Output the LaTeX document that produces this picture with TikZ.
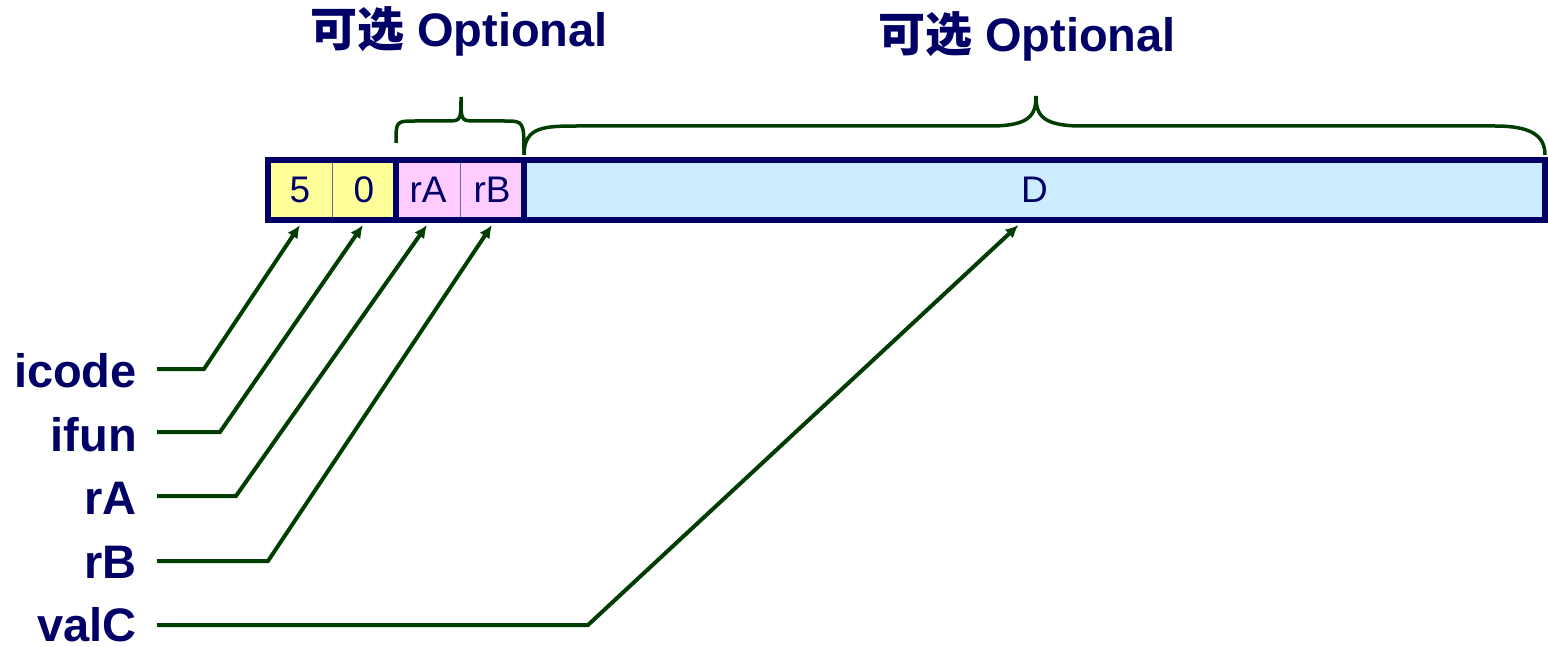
\documentclass[tikz,border=0pt]{standalone}
\usepackage{fontspec}
\setmainfont{Liberation Sans}
\newfontfamily\cjk{Noto Sans CJK SC Bold}
\usetikzlibrary{arrows.meta}
\definecolor{navy}{HTML}{000066}
\definecolor{lgreen}{HTML}{003D00}
\definecolor{yel}{HTML}{FFFF99}
\definecolor{pnk}{HTML}{FFCCFF}
\definecolor{lblue}{HTML}{CCECFF}
\begin{document}
\begin{tikzpicture}[x=1pt,y=-1pt,
  cell/.style={draw=navy!60, line width=1pt, minimum height=60pt, inner sep=0pt, outer sep=0pt,
    text=navy, font=\fontsize{37}{44}\selectfont},
  group/.style={draw=navy, line width=6pt},
  lab/.style={text=navy, inner sep=0pt, font=\bfseries\fontsize{47}{56}\selectfont},
  ttl/.style={text=navy, inner sep=0pt, font=\bfseries\fontsize{47}{56}\selectfont},
  conn/.style={draw=lgreen, line width=4pt, -{Latex[length=13pt,width=12pt]}},
  brace/.style={draw=lgreen, line width=3.5pt}]
\useasboundingbox (0,0) rectangle (1548,647);

% cells
\node[cell, fill=yel, minimum width=64pt] (c5) at (300,190) {5};
\node[cell, fill=yel, minimum width=64pt] (c0) at (364,190) {0};
\node[cell, fill=pnk, minimum width=64pt] (cA) at (428,190) {rA};
\node[cell, fill=pnk, minimum width=64pt] (cB) at (492,190) {rB};
\node[cell, fill=lblue, minimum width=1021pt] (cD) at (1034.5,190) {D};
\draw[group] (c5.north west) rectangle (c0.south east);
\draw[group] (cA.north west) rectangle (cB.south east);
\draw[group] (cD.north west) rectangle (cD.south east);

% titles
\node[ttl, anchor=base] (opt1) at (459,47) {{\cjk 可选} Optional};
\node[ttl, anchor=base] (opt2) at (1027,52) {{\cjk 可选} Optional};

% braces
\draw[brace] (396,143) .. controls (396,121) .. (416,121) -- (446,121)
  .. controls (461,121) .. (461,97) .. controls (461,121) .. (476,121) -- (504,121)
  .. controls (524,121) .. (524,155);
\draw[brace] (524,155) .. controls (524,126) and (545,126) .. (580,126) -- (990,126)
  .. controls (1030,126) and (1036,115) .. (1036,96)
  .. controls (1036,115) and (1042,126) .. (1082,126) -- (1495,126)
  .. controls (1530,126) and (1545,135) .. (1545,155);

% labels
\node[lab, anchor=base east] (licode) at (137,387) {icode};
\node[lab, anchor=base east] (lifun) at (137,451) {ifun};
\node[lab, anchor=base east] (lrA) at (137,514) {rA};
\node[lab, anchor=base east] (lrB) at (137,578) {rB};
\node[lab, anchor=base east] (lvalC) at (137,641) {valC};

% connector end points
\coordinate (s1) at (157,369);
\coordinate (s2) at (157,432);
\coordinate (s3) at (157,496);
\coordinate (s4) at (157,561);
\coordinate (s5) at (157,625);
\coordinate (t1) at ([yshift=-5pt]c5.south);
\coordinate (t2) at ([xshift=-1pt,yshift=-5pt]c0.south);
\coordinate (t3) at ([xshift=-1pt,yshift=-5pt]cA.south);
\coordinate (t4) at ([yshift=-5pt]cB.south);
\coordinate (t5) at ([xshift=-16pt,yshift=-5pt]cD.south);

\draw[conn] (s1) -- (204,369) -- (t1);
\draw[conn] (s2) -- (220,432) -- (t2);
\draw[conn] (s3) -- (236,496) -- (t3);
\draw[conn] (s4) -- (268,561) -- (t4);
\draw[conn] (s5) -- (588,625) -- (t5);
\end{tikzpicture}
\end{document}
